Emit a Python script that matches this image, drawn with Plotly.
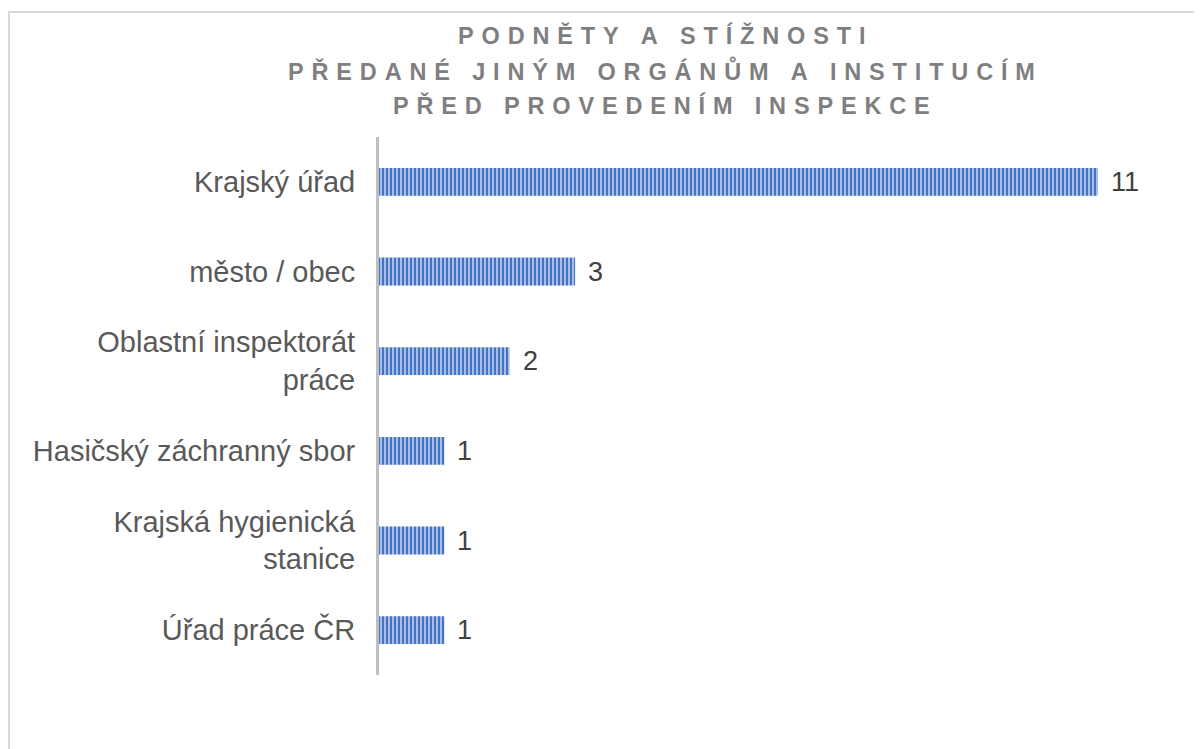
import plotly.graph_objects as go

categories = ["Krajský úřad", "město / obec", "Oblastní inspektorát<br>práce",
              "Hasičský záchranný sbor", "Krajská hygienická<br>stanice", "Úřad práce ČR"]
values = [11, 3, 2, 1, 1, 1]
title_lines = ["PODNĚTY A STÍŽNOSTI",
               "PŘEDANÉ JINÝM ORGÁNŮM A INSTITUCÍM",
               "PŘED PROVEDENÍM INSPEKCE"]

FONT = "Arial, Liberation Sans, sans-serif"


def spaced(s):
    # Excel-style letter spacing
    return "\u2004".join(s)


# page body has an 8px margin, so work in reference pixels minus 8
OFF = 8
W, H = 1202 - OFF, 749 - OFF
L, R = 379 - OFF, (1202 - OFF) - (1098 - OFF)
T, B = 137 - OFF, 749 - 675
pw, ph = W - L - R, H - T - B


def px_x(px):
    return (px - OFF - L) / pw


def px_y(py):
    return (H - B - (py - OFF)) / ph


fig = go.Figure(go.Bar(
    x=values,
    y=categories,
    orientation="h",
    width=0.31,
    marker=dict(
        color="#4472C4",
        line=dict(width=0),
        pattern=dict(shape="|", fgcolor="#B4C7E7", bgcolor="#4472C4",
                     size=4, solidity=0.45, fillmode="replace"),
    ),
    hoverinfo="x+y",
))

for v, c in zip(values, categories):
    fig.add_annotation(x=v, y=c, text=str(v), showarrow=False,
                       xanchor="left", xshift=11,
                       font=dict(family=FONT, size=27, color="#404040"))

# title, one annotation per line so the line gap matches
for line, yc in zip(title_lines, [36, 71, 105]):
    fig.add_annotation(text=spaced(line), xref="paper", yref="paper",
                       x=px_x(661), y=px_y(yc), xanchor="center", yanchor="middle",
                       showarrow=False,
                       font=dict(family=FONT, size=23.5, color="#7F7F7F", weight="bold"))

fig.update_layout(
    width=W, height=H,
    margin=dict(l=L, r=R, t=T, b=B),
    paper_bgcolor="white",
    plot_bgcolor="white",
    showlegend=False,
    xaxis=dict(range=[0, 11], visible=False),
    yaxis=dict(autorange="reversed", showgrid=False, zeroline=False,
               showline=True, linecolor="#BFBFBF", linewidth=3,
               ticks="", ticklabelstandoff=15,
               tickfont=dict(family=FONT, size=29, color="#595959")),
    shapes=[dict(type="rect", xref="paper", yref="paper",
                 x0=px_x(9), x1=px_x(1215), y0=px_y(765), y1=px_y(12),
                 line=dict(color="#D9D9D9", width=2), fillcolor="rgba(0,0,0,0)",
                 layer="below")],
)

fig.write_html("out.html")
